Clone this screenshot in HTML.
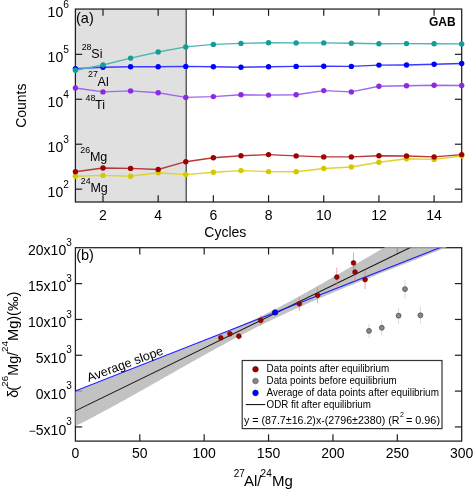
<!DOCTYPE html>
<html><head><meta charset="utf-8"><style>
html,body{margin:0;padding:0;background:#fff;}
svg{display:block;will-change:transform;}
text{font-family:"Liberation Sans", sans-serif;}
</style></head><body>
<svg width="473" height="489" viewBox="0 0 473 489">
<rect width="473" height="489" fill="#fff"/>
<rect x="75.4" y="9.05" width="110.80" height="192.95" fill="#e0e0e0"/>
<line x1="186.2" y1="9.05" x2="186.2" y2="202.0" stroke="#2a2a2a" stroke-width="1.1"/>
<rect x="75.4" y="9.05" width="386.30" height="192.95" fill="none" stroke="#1e1e1e" stroke-width="1.25"/>
<line x1="102.99" y1="202.0" x2="102.99" y2="195.2" stroke="#1e1e1e" stroke-width="1.2"/>
<line x1="102.99" y1="9.05" x2="102.99" y2="15.850000000000001" stroke="#1e1e1e" stroke-width="1.2"/>
<text x="102.99" y="219.60" font-size="14" text-anchor="middle" font-weight="normal" fill="#000" >2</text>
<line x1="158.18" y1="202.0" x2="158.18" y2="195.2" stroke="#1e1e1e" stroke-width="1.2"/>
<line x1="158.18" y1="9.05" x2="158.18" y2="15.850000000000001" stroke="#1e1e1e" stroke-width="1.2"/>
<text x="158.18" y="219.60" font-size="14" text-anchor="middle" font-weight="normal" fill="#000" >4</text>
<line x1="213.36" y1="202.0" x2="213.36" y2="195.2" stroke="#1e1e1e" stroke-width="1.2"/>
<line x1="213.36" y1="9.05" x2="213.36" y2="15.850000000000001" stroke="#1e1e1e" stroke-width="1.2"/>
<text x="213.36" y="219.60" font-size="14" text-anchor="middle" font-weight="normal" fill="#000" >6</text>
<line x1="268.55" y1="202.0" x2="268.55" y2="195.2" stroke="#1e1e1e" stroke-width="1.2"/>
<line x1="268.55" y1="9.05" x2="268.55" y2="15.850000000000001" stroke="#1e1e1e" stroke-width="1.2"/>
<text x="268.55" y="219.60" font-size="14" text-anchor="middle" font-weight="normal" fill="#000" >8</text>
<line x1="323.74" y1="202.0" x2="323.74" y2="195.2" stroke="#1e1e1e" stroke-width="1.2"/>
<line x1="323.74" y1="9.05" x2="323.74" y2="15.850000000000001" stroke="#1e1e1e" stroke-width="1.2"/>
<text x="323.74" y="219.60" font-size="14" text-anchor="middle" font-weight="normal" fill="#000" >10</text>
<line x1="378.92" y1="202.0" x2="378.92" y2="195.2" stroke="#1e1e1e" stroke-width="1.2"/>
<line x1="378.92" y1="9.05" x2="378.92" y2="15.850000000000001" stroke="#1e1e1e" stroke-width="1.2"/>
<text x="378.92" y="219.60" font-size="14" text-anchor="middle" font-weight="normal" fill="#000" >12</text>
<line x1="434.11" y1="202.0" x2="434.11" y2="195.2" stroke="#1e1e1e" stroke-width="1.2"/>
<line x1="434.11" y1="9.05" x2="434.11" y2="15.850000000000001" stroke="#1e1e1e" stroke-width="1.2"/>
<text x="434.11" y="219.60" font-size="14" text-anchor="middle" font-weight="normal" fill="#000" >14</text>
<line x1="75.4" y1="189.16" x2="82.2" y2="189.16" stroke="#1e1e1e" stroke-width="1.2"/>
<line x1="461.7" y1="189.16" x2="454.9" y2="189.16" stroke="#1e1e1e" stroke-width="1.2"/>
<text x="63.20" y="196.76" font-size="14" text-anchor="end" font-weight="normal" fill="#000" >10</text>
<text x="63.20" y="187.76" font-size="10.2" text-anchor="start" font-weight="normal" fill="#000" >2</text>
<line x1="75.4" y1="144.22" x2="82.2" y2="144.22" stroke="#1e1e1e" stroke-width="1.2"/>
<line x1="461.7" y1="144.22" x2="454.9" y2="144.22" stroke="#1e1e1e" stroke-width="1.2"/>
<text x="63.20" y="151.82" font-size="14" text-anchor="end" font-weight="normal" fill="#000" >10</text>
<text x="63.20" y="142.82" font-size="10.2" text-anchor="start" font-weight="normal" fill="#000" >3</text>
<line x1="75.4" y1="99.28" x2="82.2" y2="99.28" stroke="#1e1e1e" stroke-width="1.2"/>
<line x1="461.7" y1="99.28" x2="454.9" y2="99.28" stroke="#1e1e1e" stroke-width="1.2"/>
<text x="63.20" y="106.88" font-size="14" text-anchor="end" font-weight="normal" fill="#000" >10</text>
<text x="63.20" y="97.88" font-size="10.2" text-anchor="start" font-weight="normal" fill="#000" >4</text>
<line x1="75.4" y1="54.34" x2="82.2" y2="54.34" stroke="#1e1e1e" stroke-width="1.2"/>
<line x1="461.7" y1="54.34" x2="454.9" y2="54.34" stroke="#1e1e1e" stroke-width="1.2"/>
<text x="63.20" y="61.94" font-size="14" text-anchor="end" font-weight="normal" fill="#000" >10</text>
<text x="63.20" y="52.94" font-size="10.2" text-anchor="start" font-weight="normal" fill="#000" >5</text>
<text x="63.20" y="17.00" font-size="14" text-anchor="end" font-weight="normal" fill="#000" >10</text>
<text x="63.20" y="8.00" font-size="10.2" text-anchor="start" font-weight="normal" fill="#000" >6</text>
<text x="76.00" y="23.20" font-size="14.5" text-anchor="start" font-weight="normal" fill="#000" >(a)</text>
<text x="455.60" y="26.00" font-size="12" text-anchor="end" font-weight="bold" fill="#000" >GAB</text>
<text x="81.70" y="49.60" font-size="8.8" text-anchor="start" font-weight="normal" fill="#000" >28</text>
<text x="91.30" y="57.90" font-size="12.5" text-anchor="start" font-weight="normal" fill="#000" >Si</text>
<text x="88.00" y="77.30" font-size="8.8" text-anchor="start" font-weight="normal" fill="#000" >27</text>
<text x="97.60" y="85.60" font-size="12.5" text-anchor="start" font-weight="normal" fill="#000" >Al</text>
<text x="85.50" y="101.10" font-size="8.8" text-anchor="start" font-weight="normal" fill="#000" >48</text>
<text x="95.10" y="109.40" font-size="12.5" text-anchor="start" font-weight="normal" fill="#000" >Ti</text>
<text x="80.30" y="152.50" font-size="8.8" text-anchor="start" font-weight="normal" fill="#000" >26</text>
<text x="89.90" y="160.80" font-size="12.5" text-anchor="start" font-weight="normal" fill="#000" >Mg</text>
<text x="80.80" y="183.70" font-size="8.8" text-anchor="start" font-weight="normal" fill="#000" >24</text>
<text x="90.40" y="192.00" font-size="12.5" text-anchor="start" font-weight="normal" fill="#000" >Mg</text>
<polyline points="75.40,176.20 102.99,175.40 130.59,176.20 158.18,172.80 185.77,174.60 213.36,172.30 240.96,170.60 268.55,171.60 296.14,171.70 323.74,168.50 351.33,167.00 378.92,162.20 406.51,158.80 434.11,159.40 461.70,156.00" fill="none" stroke="#e0d42a" stroke-width="1.4"/>
<circle cx="75.40" cy="176.20" r="2.7" fill="#d4c800"/>
<circle cx="102.99" cy="175.40" r="2.7" fill="#d4c800"/>
<circle cx="130.59" cy="176.20" r="2.7" fill="#d4c800"/>
<circle cx="158.18" cy="172.80" r="2.7" fill="#d4c800"/>
<circle cx="185.77" cy="174.60" r="2.7" fill="#d4c800"/>
<circle cx="213.36" cy="172.30" r="2.7" fill="#d4c800"/>
<circle cx="240.96" cy="170.60" r="2.7" fill="#d4c800"/>
<circle cx="268.55" cy="171.60" r="2.7" fill="#d4c800"/>
<circle cx="296.14" cy="171.70" r="2.7" fill="#d4c800"/>
<circle cx="323.74" cy="168.50" r="2.7" fill="#d4c800"/>
<circle cx="351.33" cy="167.00" r="2.7" fill="#d4c800"/>
<circle cx="378.92" cy="162.20" r="2.7" fill="#d4c800"/>
<circle cx="406.51" cy="158.80" r="2.7" fill="#d4c800"/>
<circle cx="434.11" cy="159.40" r="2.7" fill="#d4c800"/>
<circle cx="461.70" cy="156.00" r="2.7" fill="#d4c800"/>
<polyline points="75.40,171.80 102.99,168.00 130.59,168.40 158.18,169.50 185.77,161.70 213.36,157.70 240.96,155.80 268.55,154.60 296.14,155.90 323.74,156.90 351.33,156.90 378.92,155.70 406.51,156.00 434.11,156.90 461.70,154.60" fill="none" stroke="#b83838" stroke-width="1.4"/>
<circle cx="75.40" cy="171.80" r="2.7" fill="#a00000"/>
<circle cx="102.99" cy="168.00" r="2.7" fill="#a00000"/>
<circle cx="130.59" cy="168.40" r="2.7" fill="#a00000"/>
<circle cx="158.18" cy="169.50" r="2.7" fill="#a00000"/>
<circle cx="185.77" cy="161.70" r="2.7" fill="#a00000"/>
<circle cx="213.36" cy="157.70" r="2.7" fill="#a00000"/>
<circle cx="240.96" cy="155.80" r="2.7" fill="#a00000"/>
<circle cx="268.55" cy="154.60" r="2.7" fill="#a00000"/>
<circle cx="296.14" cy="155.90" r="2.7" fill="#a00000"/>
<circle cx="323.74" cy="156.90" r="2.7" fill="#a00000"/>
<circle cx="351.33" cy="156.90" r="2.7" fill="#a00000"/>
<circle cx="378.92" cy="155.70" r="2.7" fill="#a00000"/>
<circle cx="406.51" cy="156.00" r="2.7" fill="#a00000"/>
<circle cx="434.11" cy="156.90" r="2.7" fill="#a00000"/>
<circle cx="461.70" cy="154.60" r="2.7" fill="#a00000"/>
<polyline points="75.40,88.00 102.99,91.90 130.59,90.90 158.18,92.80 185.77,97.40 213.36,96.60 240.96,94.70 268.55,95.10 296.14,94.70 323.74,90.60 351.33,91.90 378.92,86.30 406.51,85.70 434.11,85.20 461.70,85.50" fill="none" stroke="#a066f0" stroke-width="1.4"/>
<circle cx="75.40" cy="88.00" r="2.7" fill="#8a2be2"/>
<circle cx="102.99" cy="91.90" r="2.7" fill="#8a2be2"/>
<circle cx="130.59" cy="90.90" r="2.7" fill="#8a2be2"/>
<circle cx="158.18" cy="92.80" r="2.7" fill="#8a2be2"/>
<circle cx="185.77" cy="97.40" r="2.7" fill="#8a2be2"/>
<circle cx="213.36" cy="96.60" r="2.7" fill="#8a2be2"/>
<circle cx="240.96" cy="94.70" r="2.7" fill="#8a2be2"/>
<circle cx="268.55" cy="95.10" r="2.7" fill="#8a2be2"/>
<circle cx="296.14" cy="94.70" r="2.7" fill="#8a2be2"/>
<circle cx="323.74" cy="90.60" r="2.7" fill="#8a2be2"/>
<circle cx="351.33" cy="91.90" r="2.7" fill="#8a2be2"/>
<circle cx="378.92" cy="86.30" r="2.7" fill="#8a2be2"/>
<circle cx="406.51" cy="85.70" r="2.7" fill="#8a2be2"/>
<circle cx="434.11" cy="85.20" r="2.7" fill="#8a2be2"/>
<circle cx="461.70" cy="85.50" r="2.7" fill="#8a2be2"/>
<polyline points="75.40,68.60 102.99,67.20 130.59,66.70 158.18,66.80 185.77,66.40 213.36,66.80 240.96,67.30 268.55,66.80 296.14,66.40 323.74,66.30 351.33,66.40 378.92,65.10 406.51,65.00 434.11,64.30 461.70,63.50" fill="none" stroke="#3a3aff" stroke-width="1.4"/>
<circle cx="75.40" cy="68.60" r="2.7" fill="#0000ff"/>
<circle cx="102.99" cy="67.20" r="2.7" fill="#0000ff"/>
<circle cx="130.59" cy="66.70" r="2.7" fill="#0000ff"/>
<circle cx="158.18" cy="66.80" r="2.7" fill="#0000ff"/>
<circle cx="185.77" cy="66.40" r="2.7" fill="#0000ff"/>
<circle cx="213.36" cy="66.80" r="2.7" fill="#0000ff"/>
<circle cx="240.96" cy="67.30" r="2.7" fill="#0000ff"/>
<circle cx="268.55" cy="66.80" r="2.7" fill="#0000ff"/>
<circle cx="296.14" cy="66.40" r="2.7" fill="#0000ff"/>
<circle cx="323.74" cy="66.30" r="2.7" fill="#0000ff"/>
<circle cx="351.33" cy="66.40" r="2.7" fill="#0000ff"/>
<circle cx="378.92" cy="65.10" r="2.7" fill="#0000ff"/>
<circle cx="406.51" cy="65.00" r="2.7" fill="#0000ff"/>
<circle cx="434.11" cy="64.30" r="2.7" fill="#0000ff"/>
<circle cx="461.70" cy="63.50" r="2.7" fill="#0000ff"/>
<polyline points="75.40,70.30 102.99,65.00 130.59,58.10 158.18,52.00 185.77,46.90 213.36,44.40 240.96,43.40 268.55,42.70 296.14,42.90 323.74,42.90 351.33,43.30 378.92,43.70 406.51,43.60 434.11,43.70 461.70,43.90" fill="none" stroke="#4db5b5" stroke-width="1.4"/>
<circle cx="75.40" cy="70.30" r="2.7" fill="#149c98"/>
<circle cx="102.99" cy="65.00" r="2.7" fill="#149c98"/>
<circle cx="130.59" cy="58.10" r="2.7" fill="#149c98"/>
<circle cx="158.18" cy="52.00" r="2.7" fill="#149c98"/>
<circle cx="185.77" cy="46.90" r="2.7" fill="#149c98"/>
<circle cx="213.36" cy="44.40" r="2.7" fill="#149c98"/>
<circle cx="240.96" cy="43.40" r="2.7" fill="#149c98"/>
<circle cx="268.55" cy="42.70" r="2.7" fill="#149c98"/>
<circle cx="296.14" cy="42.90" r="2.7" fill="#149c98"/>
<circle cx="323.74" cy="42.90" r="2.7" fill="#149c98"/>
<circle cx="351.33" cy="43.30" r="2.7" fill="#149c98"/>
<circle cx="378.92" cy="43.70" r="2.7" fill="#149c98"/>
<circle cx="406.51" cy="43.60" r="2.7" fill="#149c98"/>
<circle cx="434.11" cy="43.70" r="2.7" fill="#149c98"/>
<circle cx="461.70" cy="43.90" r="2.7" fill="#149c98"/>
<text x="225.30" y="237.20" font-size="14" text-anchor="middle" font-weight="normal" fill="#000" >Cycles</text>
<text transform="translate(25.9,105.7) rotate(-90)" font-size="14" text-anchor="middle" fill="#000">Counts</text>
<rect x="75.4" y="247.7" width="386.30" height="193.40" fill="none" stroke="#1e1e1e" stroke-width="1.25"/>
<text x="75.40" y="458.40" font-size="14" text-anchor="middle" font-weight="normal" fill="#000" >0</text>
<line x1="139.78" y1="441.1" x2="139.78" y2="434.3" stroke="#1e1e1e" stroke-width="1.2"/>
<line x1="139.78" y1="247.7" x2="139.78" y2="254.5" stroke="#1e1e1e" stroke-width="1.2"/>
<text x="139.78" y="458.40" font-size="14" text-anchor="middle" font-weight="normal" fill="#000" >50</text>
<line x1="204.17" y1="441.1" x2="204.17" y2="434.3" stroke="#1e1e1e" stroke-width="1.2"/>
<line x1="204.17" y1="247.7" x2="204.17" y2="254.5" stroke="#1e1e1e" stroke-width="1.2"/>
<text x="204.17" y="458.40" font-size="14" text-anchor="middle" font-weight="normal" fill="#000" >100</text>
<line x1="268.55" y1="441.1" x2="268.55" y2="434.3" stroke="#1e1e1e" stroke-width="1.2"/>
<line x1="268.55" y1="247.7" x2="268.55" y2="254.5" stroke="#1e1e1e" stroke-width="1.2"/>
<text x="268.55" y="458.40" font-size="14" text-anchor="middle" font-weight="normal" fill="#000" >150</text>
<line x1="332.93" y1="441.1" x2="332.93" y2="434.3" stroke="#1e1e1e" stroke-width="1.2"/>
<line x1="332.93" y1="247.7" x2="332.93" y2="254.5" stroke="#1e1e1e" stroke-width="1.2"/>
<text x="332.93" y="458.40" font-size="14" text-anchor="middle" font-weight="normal" fill="#000" >200</text>
<line x1="397.32" y1="441.1" x2="397.32" y2="434.3" stroke="#1e1e1e" stroke-width="1.2"/>
<line x1="397.32" y1="247.7" x2="397.32" y2="254.5" stroke="#1e1e1e" stroke-width="1.2"/>
<text x="397.32" y="458.40" font-size="14" text-anchor="middle" font-weight="normal" fill="#000" >250</text>
<text x="461.70" y="458.40" font-size="14" text-anchor="middle" font-weight="normal" fill="#000" >300</text>
<line x1="75.4" y1="426.93" x2="82.2" y2="426.93" stroke="#1e1e1e" stroke-width="1.2"/>
<line x1="461.7" y1="426.93" x2="454.9" y2="426.93" stroke="#1e1e1e" stroke-width="1.2"/>
<text x="66.20" y="434.63" font-size="14" text-anchor="end" font-weight="normal" fill="#000" ><tspan font-size="12">−</tspan>5x10</text>
<text x="66.20" y="425.13" font-size="10" text-anchor="start" font-weight="normal" fill="#000" >3</text>
<line x1="75.4" y1="391.10" x2="82.2" y2="391.10" stroke="#1e1e1e" stroke-width="1.2"/>
<line x1="461.7" y1="391.10" x2="454.9" y2="391.10" stroke="#1e1e1e" stroke-width="1.2"/>
<text x="66.20" y="398.80" font-size="14" text-anchor="end" font-weight="normal" fill="#000" >0x10</text>
<text x="66.20" y="389.30" font-size="10" text-anchor="start" font-weight="normal" fill="#000" >3</text>
<line x1="75.4" y1="355.27" x2="82.2" y2="355.27" stroke="#1e1e1e" stroke-width="1.2"/>
<line x1="461.7" y1="355.27" x2="454.9" y2="355.27" stroke="#1e1e1e" stroke-width="1.2"/>
<text x="66.20" y="362.97" font-size="14" text-anchor="end" font-weight="normal" fill="#000" >5x10</text>
<text x="66.20" y="353.47" font-size="10" text-anchor="start" font-weight="normal" fill="#000" >3</text>
<line x1="75.4" y1="319.44" x2="82.2" y2="319.44" stroke="#1e1e1e" stroke-width="1.2"/>
<line x1="461.7" y1="319.44" x2="454.9" y2="319.44" stroke="#1e1e1e" stroke-width="1.2"/>
<text x="66.20" y="327.14" font-size="14" text-anchor="end" font-weight="normal" fill="#000" >10x10</text>
<text x="66.20" y="317.64" font-size="10" text-anchor="start" font-weight="normal" fill="#000" >3</text>
<line x1="75.4" y1="283.61" x2="82.2" y2="283.61" stroke="#1e1e1e" stroke-width="1.2"/>
<line x1="461.7" y1="283.61" x2="454.9" y2="283.61" stroke="#1e1e1e" stroke-width="1.2"/>
<text x="66.20" y="291.31" font-size="14" text-anchor="end" font-weight="normal" fill="#000" >15x10</text>
<text x="66.20" y="281.81" font-size="10" text-anchor="start" font-weight="normal" fill="#000" >3</text>
<text x="66.20" y="255.48" font-size="14" text-anchor="end" font-weight="normal" fill="#000" >20x10</text>
<text x="66.20" y="245.98" font-size="10" text-anchor="start" font-weight="normal" fill="#000" >3</text>
<clipPath id="cb"><rect x="74.70" y="247.00" width="387.70" height="194.80"/></clipPath>
<clipPath id="cl"><rect x="75.40" y="247.70" width="386.30" height="193.40"/></clipPath>
<g clip-path="url(#cb)">
<polygon points="75.40,391.47 77.33,390.72 79.26,389.97 81.19,389.21 83.13,388.46 85.06,387.71 86.99,386.95 88.92,386.20 90.85,385.44 92.78,384.69 94.72,383.94 96.65,383.18 98.58,382.43 100.51,381.67 102.44,380.92 104.37,380.16 106.30,379.41 108.24,378.66 110.17,377.90 112.10,377.14 114.03,376.39 115.96,375.63 117.89,374.88 119.82,374.12 121.76,373.37 123.69,372.61 125.62,371.85 127.55,371.10 129.48,370.34 131.41,369.58 133.34,368.83 135.28,368.07 137.21,367.31 139.14,366.55 141.07,365.79 143.00,365.04 144.93,364.28 146.87,363.52 148.80,362.76 150.73,362.00 152.66,361.24 154.59,360.48 156.52,359.72 158.45,358.96 160.39,358.19 162.32,357.43 164.25,356.67 166.18,355.91 168.11,355.14 170.04,354.38 171.97,353.61 173.91,352.85 175.84,352.08 177.77,351.32 179.70,350.55 181.63,349.78 183.56,349.01 185.50,348.24 187.43,347.47 189.36,346.70 191.29,345.93 193.22,345.15 195.15,344.38 197.08,343.60 199.02,342.83 200.95,342.05 202.88,341.27 204.81,340.49 206.74,339.70 208.67,338.92 210.60,338.13 212.54,337.34 214.47,336.55 216.40,335.76 218.33,334.96 220.26,334.17 222.19,333.37 224.13,332.56 226.06,331.75 227.99,330.94 229.92,330.13 231.85,329.31 233.78,328.49 235.71,327.66 237.65,326.83 239.58,325.99 241.51,325.15 243.44,324.30 245.37,323.44 247.30,322.58 249.23,321.71 251.17,320.83 253.10,319.94 255.03,319.05 256.96,318.15 258.89,317.24 260.82,316.32 262.76,315.39 264.69,314.45 266.62,313.50 268.55,312.55 270.48,311.58 272.41,310.61 274.34,309.63 276.28,308.63 278.21,307.63 280.14,306.63 282.07,305.61 284.00,304.59 285.93,303.56 287.87,302.52 289.80,301.48 291.73,300.43 293.66,299.38 295.59,298.32 297.52,297.26 299.45,296.20 301.39,295.12 303.32,294.05 305.25,292.97 307.18,291.89 309.11,290.81 311.04,289.72 312.97,288.63 314.91,287.54 316.84,286.44 318.77,285.35 320.70,284.25 322.63,283.15 324.56,282.05 326.50,280.94 328.43,279.84 330.36,278.73 332.29,277.62 334.22,276.51 336.15,275.40 338.08,274.29 340.02,273.18 341.95,272.06 343.88,270.95 345.81,269.83 347.74,268.72 349.67,267.60 351.60,266.48 353.54,265.36 355.47,264.25 357.40,263.13 359.33,262.01 361.26,260.88 363.19,259.76 365.12,258.64 367.06,257.52 368.99,256.40 370.92,255.27 372.85,254.15 374.78,253.02 376.71,251.90 378.65,250.77 380.58,249.65 382.51,248.52 384.44,247.40 386.37,246.27 388.30,245.14 390.23,244.02 392.17,242.89 394.10,241.76 396.03,240.64 397.96,239.51 399.89,238.38 401.82,237.25 403.75,236.12 405.69,234.99 407.62,233.86 409.55,232.74 411.48,231.61 413.41,230.48 415.34,229.35 417.28,228.22 419.21,227.09 421.14,225.96 423.07,224.83 425.00,223.70 426.93,222.57 428.86,221.44 430.80,220.30 432.73,219.17 434.66,218.04 436.59,216.91 438.52,215.78 440.45,214.65 442.38,213.52 444.32,212.39 446.25,211.25 448.18,210.12 450.11,208.99 452.04,207.86 453.97,206.73 455.91,205.59 457.84,204.46 459.77,203.33 461.70,202.20 461.70,241.22 459.77,242.01 457.84,242.79 455.91,243.57 453.97,244.34 452.04,245.12 450.11,245.90 448.18,246.67 446.25,247.44 444.32,248.21 442.38,248.98 440.45,249.75 438.52,250.51 436.59,251.28 434.66,252.05 432.73,252.81 430.80,253.57 428.86,254.34 426.93,255.10 425.00,255.86 423.07,256.62 421.14,257.38 419.21,258.14 417.28,258.90 415.34,259.66 413.41,260.42 411.48,261.17 409.55,261.93 407.62,262.69 405.69,263.45 403.75,264.21 401.82,264.97 399.89,265.72 397.96,266.48 396.03,267.24 394.10,268.00 392.17,268.76 390.23,269.52 388.30,270.28 386.37,271.05 384.44,271.81 382.51,272.57 380.58,273.34 378.65,274.10 376.71,274.87 374.78,275.64 372.85,276.41 370.92,277.18 368.99,277.95 367.06,278.72 365.12,279.49 363.19,280.27 361.26,281.05 359.33,281.82 357.40,282.60 355.47,283.39 353.54,284.17 351.60,284.96 349.67,285.74 347.74,286.53 345.81,287.32 343.88,288.12 341.95,288.91 340.02,289.71 338.08,290.51 336.15,291.31 334.22,292.12 332.29,292.93 330.36,293.74 328.43,294.55 326.50,295.37 324.56,296.19 322.63,297.01 320.70,297.83 318.77,298.66 316.84,299.49 314.91,300.32 312.97,301.16 311.04,302.00 309.11,302.84 307.18,303.69 305.25,304.54 303.32,305.39 301.39,306.25 299.45,307.11 297.52,307.98 295.59,308.85 293.66,309.72 291.73,310.59 289.80,311.47 287.87,312.36 285.93,313.25 284.00,314.14 282.07,315.04 280.14,315.94 278.21,316.84 276.28,317.75 274.34,318.67 272.41,319.59 270.48,320.51 268.55,321.44 266.62,322.37 264.69,323.31 262.76,324.25 260.82,325.20 258.89,326.15 256.96,327.11 255.03,328.07 253.10,329.04 251.17,330.01 249.23,330.99 247.30,331.98 245.37,332.97 243.44,333.96 241.51,334.96 239.58,335.97 237.65,336.98 235.71,337.99 233.78,339.01 231.85,340.03 229.92,341.06 227.99,342.09 226.06,343.12 224.13,344.16 222.19,345.21 220.26,346.25 218.33,347.30 216.40,348.36 214.47,349.41 212.54,350.47 210.60,351.53 208.67,352.60 206.74,353.67 204.81,354.74 202.88,355.81 200.95,356.89 199.02,357.97 197.08,359.05 195.15,360.13 193.22,361.21 191.29,362.30 189.36,363.39 187.43,364.48 185.50,365.57 183.56,366.66 181.63,367.75 179.70,368.85 177.77,369.94 175.84,371.04 173.91,372.13 171.97,373.23 170.04,374.33 168.11,375.43 166.18,376.52 164.25,377.62 162.32,378.72 160.39,379.82 158.45,380.91 156.52,382.01 154.59,383.11 152.66,384.20 150.73,385.30 148.80,386.39 146.87,387.49 144.93,388.58 143.00,389.67 141.07,390.76 139.14,391.84 137.21,392.93 135.28,394.01 133.34,395.10 131.41,396.18 129.48,397.25 127.55,398.33 125.62,399.40 123.69,400.47 121.76,401.54 119.82,402.61 117.89,403.67 115.96,404.73 114.03,405.78 112.10,406.84 110.17,407.88 108.24,408.93 106.30,409.97 104.37,411.01 102.44,412.05 100.51,413.08 98.58,414.10 96.65,415.12 94.72,416.14 92.78,417.15 90.85,418.16 88.92,419.17 86.99,420.17 85.06,421.16 83.13,422.15 81.19,423.13 79.26,424.11 77.33,425.08 75.40,426.05" fill="#b3b3b3" fill-opacity="0.8"/>
</g>
<g clip-path="url(#cl)">
<line x1="75.4" y1="410.90" x2="461.7" y2="222.39" stroke="#111" stroke-width="1.05"/>
<line x1="75.4" y1="391.1" x2="461.7" y2="239.09" stroke="#1a1aff" stroke-width="1.1"/>
</g>
<text transform="translate(88.8,382.1) rotate(-20.5)" font-size="12.6" fill="#000">Average slope</text>
<line x1="220.8" y1="334.3" x2="220.8" y2="341.3" stroke="#d98282" stroke-width="0.7"/>
<line x1="229.9" y1="330.3" x2="229.9" y2="337.3" stroke="#d98282" stroke-width="0.7"/>
<line x1="238.9" y1="332.7" x2="238.9" y2="339.7" stroke="#d98282" stroke-width="0.7"/>
<line x1="260.7" y1="315.4" x2="260.7" y2="325.4" stroke="#d98282" stroke-width="0.7"/>
<line x1="299.3" y1="296.8" x2="299.3" y2="310.8" stroke="#d98282" stroke-width="0.7"/>
<line x1="317.6" y1="287.3" x2="317.6" y2="303.3" stroke="#d98282" stroke-width="0.7"/>
<line x1="336.8" y1="267.6" x2="336.8" y2="286.6" stroke="#d98282" stroke-width="0.7"/>
<line x1="353.5" y1="252.39999999999998" x2="353.5" y2="273.4" stroke="#d98282" stroke-width="0.7"/>
<line x1="355.0" y1="263.1" x2="355.0" y2="281.1" stroke="#d98282" stroke-width="0.7"/>
<line x1="365.1" y1="270.1" x2="365.1" y2="289.1" stroke="#d98282" stroke-width="0.7"/>
<line x1="369.0" y1="323.9" x2="369.0" y2="337.9" stroke="#cfcfcf" stroke-width="0.8"/>
<line x1="381.8" y1="320.3" x2="381.8" y2="335.3" stroke="#cfcfcf" stroke-width="0.8"/>
<line x1="398.6" y1="307.7" x2="398.6" y2="323.7" stroke="#cfcfcf" stroke-width="0.8"/>
<line x1="405.0" y1="279.6" x2="405.0" y2="298.6" stroke="#cfcfcf" stroke-width="0.8"/>
<line x1="420.4" y1="306.8" x2="420.4" y2="323.8" stroke="#cfcfcf" stroke-width="0.8"/>
<circle cx="369.0" cy="330.9" r="2.45" fill="#888" stroke="#444" stroke-width="0.75"/>
<circle cx="381.8" cy="327.8" r="2.45" fill="#888" stroke="#444" stroke-width="0.75"/>
<circle cx="398.6" cy="315.7" r="2.45" fill="#888" stroke="#444" stroke-width="0.75"/>
<circle cx="405.0" cy="289.1" r="2.45" fill="#888" stroke="#444" stroke-width="0.75"/>
<circle cx="420.4" cy="315.3" r="2.45" fill="#888" stroke="#444" stroke-width="0.75"/>
<circle cx="220.8" cy="337.8" r="2.4" fill="#a00000" stroke="#5a0000" stroke-width="0.6"/>
<circle cx="229.9" cy="333.8" r="2.4" fill="#a00000" stroke="#5a0000" stroke-width="0.6"/>
<circle cx="238.9" cy="336.2" r="2.4" fill="#a00000" stroke="#5a0000" stroke-width="0.6"/>
<circle cx="260.7" cy="320.4" r="2.4" fill="#a00000" stroke="#5a0000" stroke-width="0.6"/>
<circle cx="299.3" cy="303.8" r="2.4" fill="#a00000" stroke="#5a0000" stroke-width="0.6"/>
<circle cx="317.6" cy="295.3" r="2.4" fill="#a00000" stroke="#5a0000" stroke-width="0.6"/>
<circle cx="336.8" cy="277.1" r="2.4" fill="#a00000" stroke="#5a0000" stroke-width="0.6"/>
<circle cx="353.5" cy="262.9" r="2.4" fill="#a00000" stroke="#5a0000" stroke-width="0.6"/>
<circle cx="355.0" cy="272.1" r="2.4" fill="#a00000" stroke="#5a0000" stroke-width="0.6"/>
<circle cx="365.1" cy="279.6" r="2.4" fill="#a00000" stroke="#5a0000" stroke-width="0.6"/>
<circle cx="275.1" cy="312.4" r="2.7" fill="#0000ff" stroke="#00008a" stroke-width="0.7"/>
<rect x="242.2" y="360.5" width="199.8" height="68.1" fill="#fff" stroke="#333" stroke-width="1.2"/>
<circle cx="255.5" cy="369.2" r="2.8" fill="#a00000" stroke="#5a0000" stroke-width="0.6"/>
<circle cx="255.5" cy="381.0" r="2.8" fill="#858585" stroke="#555" stroke-width="0.6"/>
<circle cx="255.5" cy="392.9" r="2.8" fill="#0000ff" stroke="#00008a" stroke-width="0.6"/>
<line x1="245.8" y1="404.6" x2="265.2" y2="404.6" stroke="#000" stroke-width="1"/>
<text x="266.6" y="372.1" font-size="10.6" textLength="122.6" lengthAdjust="spacingAndGlyphs">Data points after equilibrium</text>
<text x="266.6" y="384.1" font-size="10.6" textLength="130.2" lengthAdjust="spacingAndGlyphs">Data points before equilibrium</text>
<text x="266.6" y="395.9" font-size="10.6" textLength="172.3" lengthAdjust="spacingAndGlyphs">Average of data points after equilibrium</text>
<text x="266.6" y="408.0" font-size="10.6" textLength="104.3" lengthAdjust="spacingAndGlyphs">ODR fit after equilibrium</text>
<text x="244.0" y="423.6" font-size="10.6" textLength="155.4" lengthAdjust="spacingAndGlyphs">y = (87.7±16.2)x-(2796±2380) (R</text>
<text x="400.0" y="417.4" font-size="7">2</text>
<text x="406.0" y="423.6" font-size="10.6" textLength="34" lengthAdjust="spacingAndGlyphs">= 0.96)</text>
<text x="76.20" y="260.20" font-size="14.5" text-anchor="start" font-weight="normal" fill="#000" >(b)</text>
<text x="233.80" y="476.60" font-size="10" text-anchor="start" font-weight="normal" fill="#000" >27</text>
<text x="244.00" y="486.00" font-size="15" text-anchor="start" font-weight="normal" fill="#000" >Al/</text>
<text x="260.60" y="476.60" font-size="10" text-anchor="start" font-weight="normal" fill="#000" >24</text>
<text x="272.00" y="486.00" font-size="15" text-anchor="start" font-weight="normal" fill="#000" >Mg</text>
<text transform="translate(17.5,397.8) rotate(-90)" font-size="14.3" fill="#000">δ<tspan dx="-0.9">(</tspan><tspan font-size="9.8" dy="-9.3" dx="-0.7">26</tspan><tspan dy="9.3">Mg/</tspan><tspan font-size="9.8" dy="-9.3">24</tspan><tspan dy="9.3" font-size="14.6">Mg)(‰)</tspan></text>
</svg>
</body></html>
